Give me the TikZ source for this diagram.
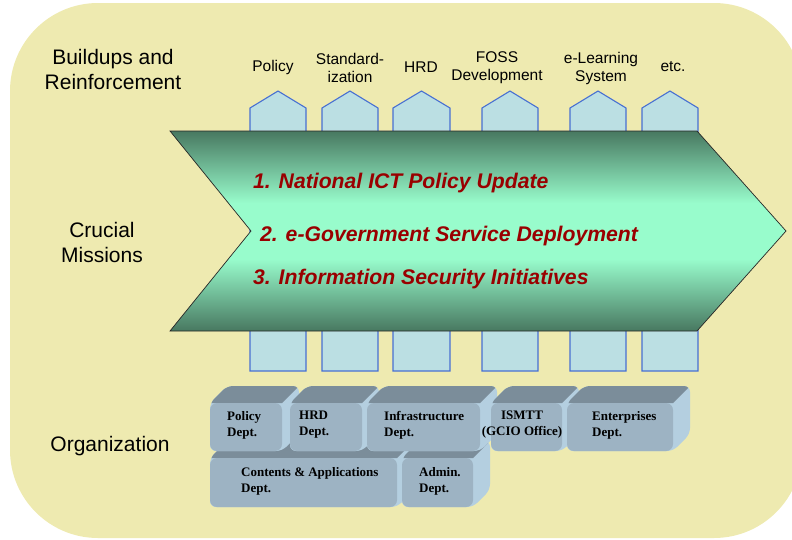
\documentclass[tikz,border=0pt]{standalone}
\usepackage{fontspec}
\setmainfont{Liberation Sans}
\newfontfamily\deptfont{Liberation Serif}
\definecolor{bgyellow}{RGB}{238,234,176}
\definecolor{colfill}{RGB}{187,223,227}
\definecolor{colline}{RGB}{72,112,210}
\definecolor{chevdark}{RGB}{72,120,96}
\definecolor{chevlight}{RGB}{152,252,204}
\definecolor{missred}{RGB}{153,0,0}
\definecolor{boxfront}{RGB}{157,179,195}
\definecolor{boxtop}{RGB}{123,141,154}
\definecolor{boxside}{RGB}{180,207,224}
\pgfdeclareverticalshading{chevshade}{100bp}{color(0bp)=(chevdark); color(25bp)=(chevdark); color(43bp)=(chevlight); color(57bp)=(chevlight); color(75bp)=(chevdark); color(100bp)=(chevdark)}
\tikzset{
  colshape/.style={fill=colfill, draw=colline, line width=1.1pt},
  toplabel/.style={font=\fontsize{15.5}{18}\selectfont, align=center, inner sep=0},
  sidelabel/.style={font=\fontsize{21}{25}\selectfont, align=center, inner sep=0},
  mission/.style={font=\fontsize{21.2}{24}\selectfont\bfseries\itshape, text=missred, anchor=west, inner sep=0},
  depttext/.style={font=\deptfont\fontsize{13}{16}\selectfont\bfseries, align=left, anchor=west, inner sep=0},
}
% #1 x1, #2 y1 (front top), #3 x2, #4 y2 (front bottom)
\newcommand\dbox[4]{%
  \begin{scope}
    \path[fill=boxside, rounded corners=6] (#1,#4) -- (#1,#2) -- (#1+17,#2-17) -- (#3+17,#2-17) -- (#3+17,#4-17) -- (#3,#4) -- cycle;
    \clip[rounded corners=6] (#1,#4) -- (#1,#2) -- (#1+17,#2-17) -- (#3+17,#2-17) -- (#3+17,#4-17) -- (#3,#4) -- cycle;
    \fill[boxtop] (#1-2,#2) -- (#1+17,#2-19) -- (#3+19,#2-19) -- (#3,#2) -- cycle;
  \end{scope}
  \fill[boxfront, rounded corners=7] (#1,#2) rectangle (#3,#4);
}
\newcommand\pillar[2]{%
  \filldraw[colshape] (#1,371) -- (#1,108) -- ({(#1+#2)/2},91) -- (#2,108) -- (#2,371) -- cycle;
}
\begin{document}
\begin{tikzpicture}[x=1pt,y=-1pt]
\useasboundingbox (0,0) rectangle (792,539);
\begin{scope}
\clip (0,0) rectangle (792,539);
\fill[bgyellow, rounded corners=88] (10,3) rectangle (802,538);
\end{scope}

% left labels
\node[sidelabel] (buildups) at (113,69) {Buildups and\\Reinforcement};
\node[sidelabel] (crucial) at (102,242) {Crucial\\Missions};
\node[sidelabel] (organization) at (110,446) {Organization};

% pillars
\pillar{250}{306}
\pillar{322}{378}
\pillar{393}{450}
\pillar{482}{538}
\pillar{570}{626}
\pillar{642}{698}

% pillar labels
\node[toplabel] (lpolicy) at (273,67) {Policy};
\node[toplabel] (lstd) at (350,68) {Standard-\\ization};
\node[toplabel] (lhrd) at (421,67) {HRD};
\node[toplabel] (lfoss) at (497,68) {FOSS\\Development};
\node[toplabel] (lelearn) at (601,68) {e-Learning\\System};
\node[toplabel] (letc) at (673,67) {etc.};

% chevron
\path[shading=chevshade, draw=black!85, line width=0.7pt] (170,131) -- (697,131) -- (786,231) -- (697,331) -- (170,331) -- (251,231) -- cycle;
\node[mission] (m1) at (253,183) {1. National ICT Policy Update};
\node[mission] (m2) at (260,236) {2. e-Government Service Deployment};
\node[mission] (m3) at (253,279) {3. Information Security Initiatives};

% departments: second row first
\dbox{210}{458}{397}{507}
\dbox{402}{458}{473}{507}
\dbox{210}{403}{282}{451}
\dbox{290}{403}{362}{451}
\dbox{367}{403}{480}{451}
\dbox{491}{403}{562}{451}
\dbox{567}{403}{673}{451}

\node[depttext] (dpolicy) at (227,425) {Policy\\Dept.};
\node[depttext] (dhrd) at (299,425) {HRD\\Dept.};
\node[depttext] (dinfra) at (384,425) {Infrastructure\\Dept.};
\node[depttext, align=center, anchor=center] (dismtt) at (522,425) {ISMTT\\(GCIO Office)};
\node[depttext] (dent) at (592,425) {Enterprises\\Dept.};
\node[depttext] (dcont) at (241,481) {Contents \& Applications\\Dept.};
\node[depttext] (dadmin) at (419,481) {Admin.\\Dept.};
\end{tikzpicture}
\end{document}
